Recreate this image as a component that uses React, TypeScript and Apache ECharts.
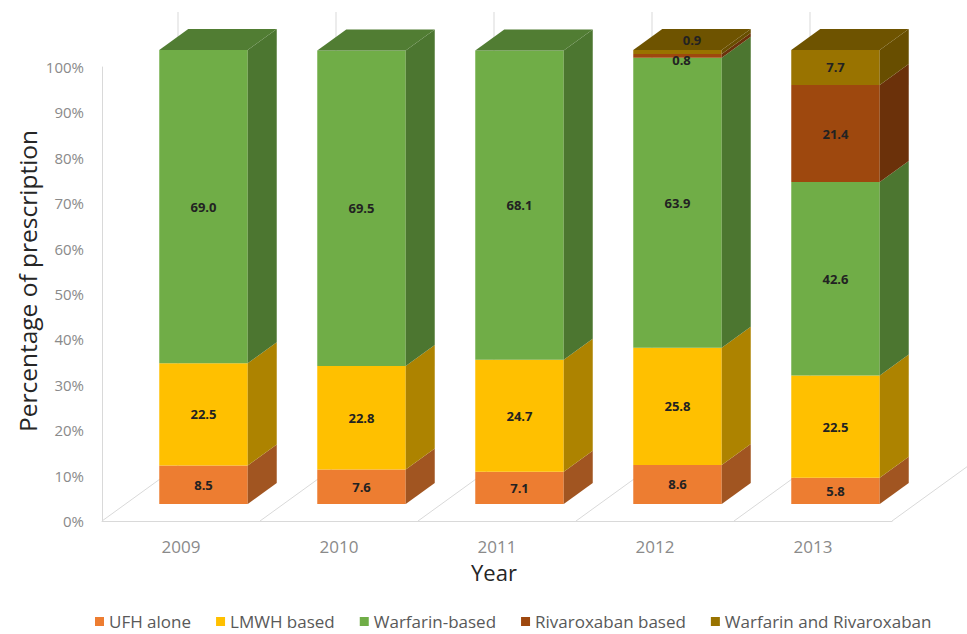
import React, { useEffect, useRef } from "react";
import * as echarts from "echarts";

const years = ["2009", "2010", "2011", "2012", "2013"];
const seriesNames = ["UFH alone", "LMWH based", "Warfarin-based", "Rivaroxaban based", "Warfarin and Rivaroxaban"];
const ufhAlone = [8.5, 7.6, 7.1, 8.6, 5.8];
const lmwhBased = [22.5, 22.8, 24.7, 25.8, 22.5];
const warfarinBased = [69.0, 69.5, 68.1, 63.9, 42.6];
const rivaroxabanBased = [0, 0, 0, 0.8, 21.4];
const warfarinAndRivaroxaban = [0, 0, 0, 0.9, 7.7];
const colors = ["#ED7D31", "#FFC000", "#70AD47", "#9E480E", "#997300"];

// 3D projection constants (pixels)
const OX = 22.5; // bar front face offset from front plane
const OY = -17;
const DX = 29; // bar depth
const DY = -21;
const FX = 76; // floor depth
const FY = -55;

function darken(hex: string, f: number) {
  const n = parseInt(hex.slice(1), 16);
  const r = Math.round(((n >> 16) & 255) * f);
  const g = Math.round(((n >> 8) & 255) * f);
  const b = Math.round((n & 255) * f);
  return `rgb(${r},${g},${b})`;
}

export default function App() {
  const ref = useRef<HTMLDivElement>(null);
  useEffect(() => {
    if (!ref.current) return;
    const chart = echarts.init(ref.current, null, { renderer: "svg" });
    const all = [ufhAlone, lmwhBased, warfarinBased, rivaroxabanBased, warfarinAndRivaroxaban];
    const bases = years.map(() => 0);
    const lastIdx = years.map((_, i) => {
      let k = 0;
      all.forEach((a, j) => {
        if (a[i] > 0) k = j;
      });
      return k;
    });

    const barSeries = all.map((arr, si) => {
      const data: number[][] = [];
      arr.forEach((v, ci) => {
        const b = bases[ci];
        bases[ci] += v;
        if (v > 0) data.push([ci, b, b + v, v, lastIdx[ci] === si ? 1 : 0]);
      });
      const color = colors[si];
      return {
        name: seriesNames[si],
        type: "custom",
        itemStyle: { color },
        encode: { x: 0, y: [1, 2] },
        z: 3,
        data,
        renderItem: (params: any, api: any) => {
          const cat = api.value(0);
          const base = api.value(1);
          const top = api.value(2);
          const val = api.value(3);
          const isTop = api.value(4) === 1;
          const p0 = api.coord([cat, base]);
          const p1 = api.coord([cat, top]);
          const band = api.size([1, 0])[0];
          const w = band * 0.56;
          const x0 = p0[0] + OX - w / 2;
          const x1 = x0 + w;
          const yb = p0[1] + OY;
          const yt = p1[1] + OY;
          const children: any[] = [
            {
              type: "rect",
              shape: { x: x0, y: yt, width: w, height: yb - yt },
              style: { fill: color },
            },
            {
              type: "polygon",
              shape: { points: [[x1, yt], [x1 + DX, yt + DY], [x1 + DX, yb + DY], [x1, yb]] },
              style: { fill: darken(color, 0.68) },
            },
          ];
          if (isTop) {
            children.push({
              type: "polygon",
              shape: { points: [[x0, yt], [x0 + DX, yt + DY], [x1 + DX, yt + DY], [x1, yt]] },
              style: { fill: darken(color, 0.72) },
            });
          }
          let lx = (x0 + x1) / 2;
          let ly = (yt + yb) / 2;
          if (val < 2) {
            if (isTop) {
              lx += DX / 2;
              ly = yt + DY / 2;
            } else {
              lx += 4;
              ly += 4;
            }
          }
          children.push({
            type: "text",
            z2: 10,
            style: {
              text: val.toFixed(1),
              x: lx,
              y: ly,
              align: "center",
              verticalAlign: "middle",
              fill: "#222222",
              font: "bold 13px 'Open Sans', sans-serif",
            },
          });
          return { type: "group", children };
        },
      };
    });

    const floorSeries = {
      name: "floor",
      type: "custom",
      z: 1,
      silent: true,
      encode: { x: 0, y: 1 },
      data: years.map((_, i) => [i, 0]),
      renderItem: (params: any, api: any) => {
        const cat = api.value(0);
        const band = api.size([1, 0])[0];
        const p0 = api.coord([cat, 0]);
        const p100 = api.coord([cat, 100]);
        const xs = [p0[0] - band / 2];
        if (cat === years.length - 1) xs.push(p0[0] + band / 2);
        const ls = { stroke: "#d9d9d9", lineWidth: 1 };
        const children: any[] = [];
        xs.forEach((x) => {
          children.push({ type: "line", shape: { x1: x, y1: p0[1], x2: x + FX, y2: p0[1] + FY }, style: ls });
          children.push({
            type: "line",
            shape: { x1: x + FX, y1: p100[1] + FY, x2: x + FX, y2: p0[1] + FY },
            style: ls,
          });
        });
        return { type: "group", children };
      },
    };

    chart.setOption({
      animation: false,
      backgroundColor: "#ffffff",
      grid: { left: 102, right: 75, top: 67, bottom: 113, containLabel: false, outerBoundsMode: "none" },
      xAxis: {
        type: "category",
        data: years,
        axisLine: { show: true, lineStyle: { color: "#d9d9d9", width: 1 } },
        axisTick: { show: false },
        splitLine: { show: false },
        axisLabel: { color: "#8a8a8a", fontSize: 17, fontFamily: "'Open Sans', sans-serif", margin: 17 },
      },
      yAxis: {
        type: "value",
        min: 0,
        max: 100,
        interval: 10,
        axisLine: { show: true, lineStyle: { color: "#d9d9d9", width: 1 } },
        axisTick: { show: false },
        splitLine: { show: false },
        axisLabel: {
          formatter: "{value}%",
          color: "#8a8a8a",
          fontSize: 15,
          fontFamily: "'Open Sans', sans-serif",
          margin: 18,
        },
      },
      legend: {
        data: seriesNames,
        left: 90,
        top: 608,
        icon: "rect",
        itemWidth: 9,
        itemHeight: 9,
        itemGap: 25,
        textStyle: { color: "#595959", fontSize: 17, fontFamily: "'Open Sans', sans-serif" },
      },
      graphic: [
        {
          type: "text",
          x: 27,
          y: 281,
          rotation: Math.PI / 2,
          style: {
            text: "Percentage of prescription",
            align: "center",
            verticalAlign: "middle",
            fill: "#262626",
            font: "24.5px 'Open Sans', sans-serif",
          },
        },
        {
          type: "text",
          x: 494,
          y: 572,
          style: {
            text: "Year",
            align: "center",
            verticalAlign: "middle",
            fill: "#262626",
            font: "22px 'Open Sans', sans-serif",
          },
        },
      ],
      series: [floorSeries, ...barSeries],
    });
    return () => chart.dispose();
  }, []);
  return <div ref={ref} style={{ width: 967, height: 634, position: "absolute", left: 0, top: 0 }} />;
}
